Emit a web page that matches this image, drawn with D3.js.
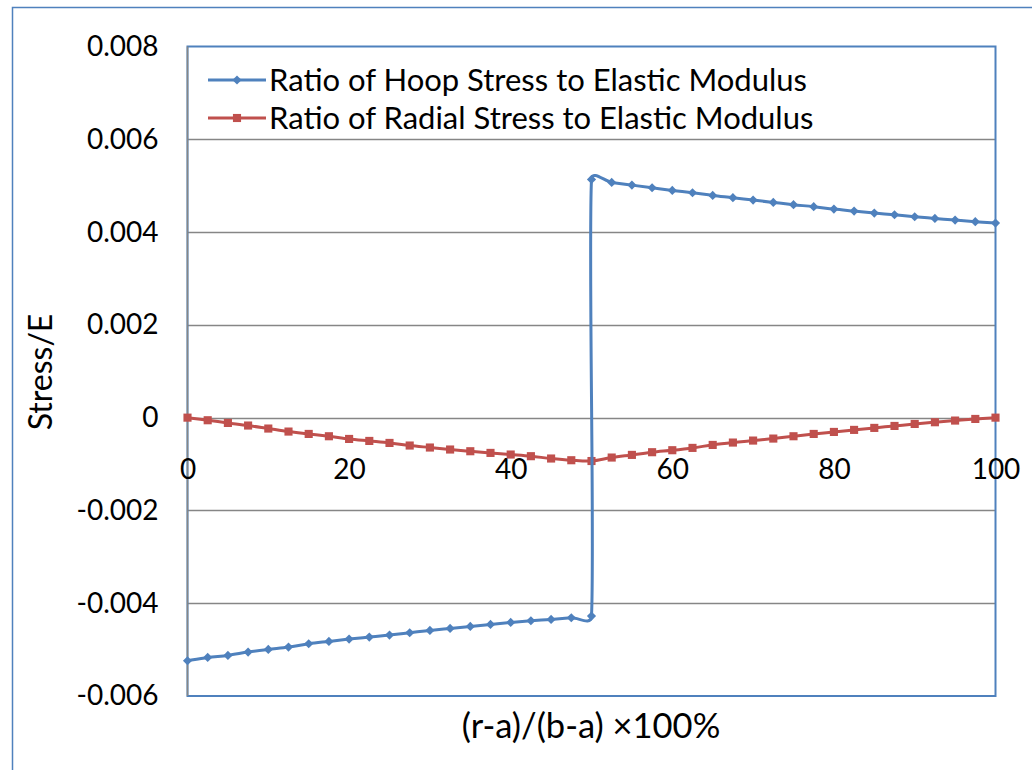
<!DOCTYPE html>
<html>
<head>
<meta charset="utf-8">
<script src="https://cdn.jsdelivr.net/npm/d3@7"></script>
<style>
  html, body { margin: 0; padding: 0; background: #fff; }
  svg { display: block; }
  text { font-family: Lato, "Open Sans", sans-serif; fill: #000; }
</style>
</head>
<body>
<svg id="chart" width="1032" height="770"></svg>
<script>
// Position across the wall, (r-a)/(b-a) x 100%
const radialX = [0, 2.5, 5, 7.5, 10, 12.5, 15, 17.5, 20, 22.5, 25, 27.5, 30, 32.5, 35, 37.5, 40, 42.5, 45, 47.5,
                 50, 52.5, 55, 57.5, 60, 62.5, 65, 67.5, 70, 72.5, 75, 77.5, 80, 82.5, 85, 87.5, 90, 92.5, 95, 97.5, 100];
const radialStress = [0, -0.000056, -0.000114, -0.000170, -0.000235, -0.000300, -0.000351, -0.000401, -0.000459, -0.000502,
                      -0.000545, -0.000601, -0.000644, -0.000687, -0.000724, -0.000760, -0.000795, -0.000831, -0.000881, -0.000918,
                      -0.000935, -0.000860, -0.000803, -0.000745, -0.000702, -0.000652, -0.000588, -0.000537, -0.000494, -0.000451,
                      -0.000401, -0.000351, -0.000308, -0.000264, -0.000221, -0.000179, -0.000136, -0.000099, -0.000063, -0.000028, 0];

// Hoop stress: inner half (compressive) then outer half (tensile), both meet at 50
const hoopX = [0, 2.5, 5, 7.5, 10, 12.5, 15, 17.5, 20, 22.5, 25, 27.5, 30, 32.5, 35, 37.5, 40, 42.5, 45, 47.5, 50,
               50, 52.5, 55, 57.5, 60, 62.5, 65, 67.5, 70, 72.5, 75, 77.5, 80, 82.5, 85, 87.5, 90, 92.5, 95, 97.5, 100];
const hoopStress = [-0.005240, -0.005168, -0.005125, -0.005053, -0.004996, -0.004945, -0.004874, -0.004823, -0.004773, -0.004730,
                    -0.004687, -0.004637, -0.004586, -0.004543, -0.004500, -0.004457, -0.004414, -0.004378, -0.004349, -0.004314,
                    -0.004278,
                    0.005135, 0.005070, 0.005012, 0.004955, 0.004898, 0.004848, 0.004790, 0.004741, 0.004689, 0.004639,
                    0.004590, 0.004547, 0.004495, 0.004452, 0.004409, 0.004374, 0.004331, 0.004295, 0.004258, 0.004224, 0.004194];

const yTicks = [-0.006, -0.004, -0.002, 0, 0.002, 0.004, 0.006, 0.008];
const xTicks = [0, 20, 40, 60, 80, 100];
const seriesNames = ["Ratio of Hoop Stress to Elastic Modulus", "Ratio of Radial Stress to Elastic Modulus"];
const seriesColors = ["#4F81BD", "#C0504D"];

// Spreadsheet-style smoothing: cubic Bezier segments whose control handles are
// (next - previous) / 6, capped at half of the segment's own length.
function SmoothCurve(context) { this._context = context; }
SmoothCurve.prototype = {
  areaStart() {}, areaEnd() {},
  lineStart() { this._pts = []; },
  point(px, py) { this._pts.push([+px, +py]); },
  lineEnd() {
    const p = this._pts, ctx = this._context, n = p.length;
    if (!n) return;
    ctx.moveTo(p[0][0], p[0][1]);
    const dist = (a, b) => Math.hypot(b[0] - a[0], b[1] - a[1]);
    const handle = (from, to, len) => {
      let vx = (to[0] - from[0]) / 6, vy = (to[1] - from[1]) / 6;
      const l = Math.hypot(vx, vy);
      if (l > len / 2 && l > 0) { vx *= (len / 2) / l; vy *= (len / 2) / l; }
      return [vx, vy];
    };
    for (let i = 0; i < n - 1; i++) {
      const p0 = p[i - 1] || p[i], p1 = p[i], p2 = p[i + 1], p3 = p[i + 2] || p[i + 1];
      const len = dist(p1, p2);
      const h1 = handle(p0, p2, len), h2 = handle(p1, p3, len);
      ctx.bezierCurveTo(p1[0] + h1[0], p1[1] + h1[1], p2[0] - h2[0], p2[1] - h2[1], p2[0], p2[1]);
    }
  }
};
const smooth = context => new SmoothCurve(context);

const svg = d3.select("#chart");

// Outer chart frame
svg.append("rect")
  .attr("x", 12.5).attr("y", 7.5).attr("width", 1040).attr("height", 800)
  .attr("fill", "none").attr("stroke", "#4F81BD").attr("stroke-width", 1.5);

const plotLeft = 187.5, plotRight = 995.5, plotTop = 46.5, plotBottom = 696;
const x = d3.scaleLinear().domain([0, 100]).range([plotLeft, plotRight]);
const y = d3.scaleLinear().domain([-0.006, 0.008]).range([plotBottom, plotTop]);

// Horizontal gridlines
svg.append("g").selectAll("line")
  .data(yTicks.filter(v => v > -0.006 && v < 0.008))
  .join("line")
  .attr("x1", plotLeft).attr("x2", plotRight)
  .attr("y1", d => Math.round(y(d)) + 0.5).attr("y2", d => Math.round(y(d)) + 0.5)
  .attr("stroke", "#868686").attr("stroke-width", 1.3);

// Plot area border
svg.append("rect")
  .attr("x", plotLeft).attr("y", plotTop).attr("width", plotRight - plotLeft).attr("height", plotBottom - plotTop)
  .attr("fill", "none").attr("stroke", "#4F81BD").attr("stroke-width", 2);

// Vertical axis line
svg.append("line")
  .attr("x1", plotLeft).attr("x2", plotLeft).attr("y1", plotTop).attr("y2", plotBottom)
  .attr("stroke", "#868686").attr("stroke-width", 1.5);

// Y axis labels
const yAxis = svg.append("g")
  .attr("transform", `translate(${plotLeft - 29},0)`)
  .call(d3.axisLeft(y).tickValues(yTicks).tickSize(0).tickPadding(0)
    .tickFormat(d => d === 0 ? "0" : d3.format(".3f")(d).replace("\u2212", "-")));
yAxis.select(".domain").remove();
yAxis.selectAll("text")
  .style("font-family", "Lato, 'Open Sans', sans-serif")
  .style("font-size", "28px").attr("fill", "#000");

// X axis labels, placed under the zero line
const xAxis = svg.append("g")
  .attr("transform", `translate(0,${y(0) + 41})`)
  .call(d3.axisBottom(x).tickValues(xTicks).tickSize(0).tickPadding(0));
xAxis.select(".domain").remove();
xAxis.selectAll("text")
  .style("font-family", "Lato, 'Open Sans', sans-serif")
  .style("font-size", "28px").attr("fill", "#000");

// Axis titles
svg.append("text")
  .attr("transform", `translate(52,372) rotate(-90)`)
  .attr("text-anchor", "middle")
  .style("font-size", "32px")
  .text("Stress/E");

svg.append("text")
  .attr("x", 591).attr("y", 738)
  .attr("text-anchor", "middle")
  .style("font-size", "34.5px")
  .text("(r-a)/(b-a) \u00D7100%");

// Series lines
const line = d3.line().x(d => x(d[0])).y(d => y(d[1])).curve(smooth);
const hoop = hoopX.map((v, i) => [v, hoopStress[i]]);
const radial = radialX.map((v, i) => [v, radialStress[i]]);

const diamond = d3.symbol().type(d3.symbolSquare).size(42);
const square = d3.symbol().type(d3.symbolSquare).size(66);

svg.append("path").datum(radial)
  .attr("d", line).attr("fill", "none")
  .attr("stroke", seriesColors[1]).attr("stroke-width", 3);
svg.append("g").selectAll("path").data(radial).join("path")
  .attr("d", square)
  .attr("transform", d => `translate(${x(d[0])},${y(d[1])})`)
  .attr("fill", seriesColors[1]);

svg.append("path").datum(hoop)
  .attr("d", line).attr("fill", "none")
  .attr("stroke", seriesColors[0]).attr("stroke-width", 3);
svg.append("g").selectAll("path").data(hoop).join("path")
  .attr("d", diamond)
  .attr("transform", d => `translate(${x(d[0])},${y(d[1])}) rotate(45)`)
  .attr("fill", seriesColors[0]);

// Legend
const legend = svg.append("g");
seriesNames.forEach((name, i) => {
  const ly = 80 + i * 38;
  legend.append("line")
    .attr("x1", 208).attr("x2", 266).attr("y1", ly).attr("y2", ly)
    .attr("stroke", seriesColors[i]).attr("stroke-width", 3);
  legend.append("path")
    .attr("d", i === 0 ? diamond : square)
    .attr("transform", `translate(237,${ly})${i === 0 ? " rotate(45)" : ""}`)
    .attr("fill", seriesColors[i]);
  legend.append("text")
    .attr("x", 269).attr("y", ly).attr("dy", "0.35em")
    .style("font-size", "31px")
    .text(name);
});
</script>
</body>
</html>
